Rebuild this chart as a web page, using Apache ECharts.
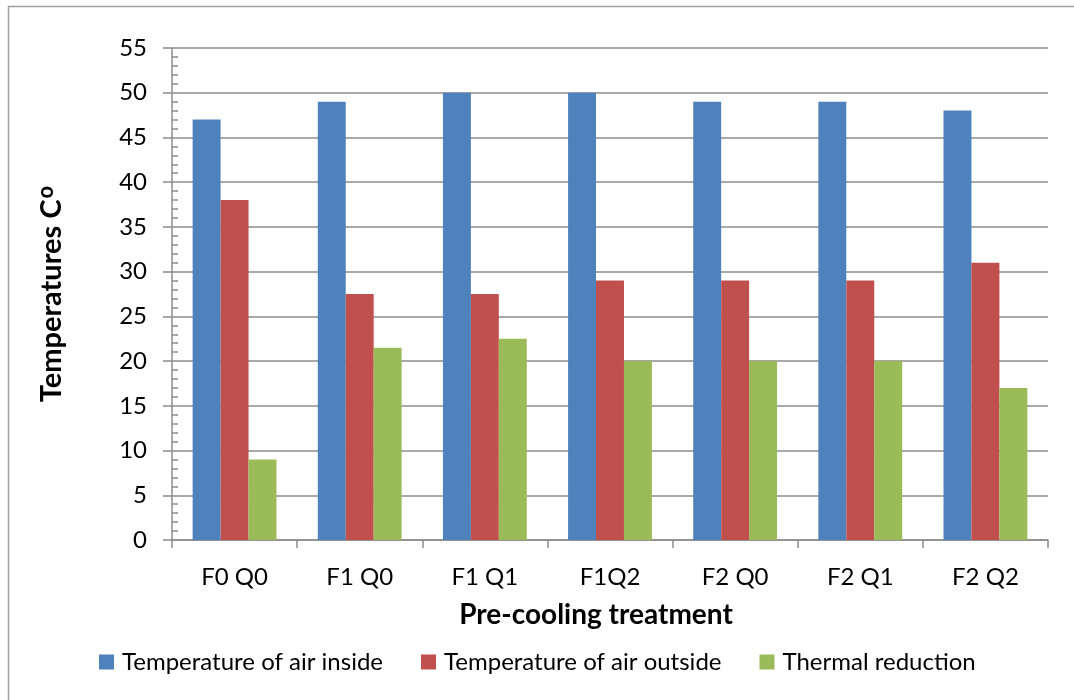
<!DOCTYPE html>
<html>
<head>
<meta charset="utf-8">
<script src="https://cdn.jsdelivr.net/npm/echarts@6/dist/echarts.min.js"></script>
<style>
  html, body { margin: 0; padding: 0; background: #fff; }
  #chart { width: 1074px; height: 700px; }
</style>
</head>
<body>
<div id="chart"></div>
<script>
// Treatments along the x axis
const categories = ['F0 Q0', 'F1 Q0', 'F1 Q1', 'F1Q2', 'F2 Q0', 'F2 Q1', 'F2 Q2'];

// Temperatures (°C) per treatment
const airInside = [47, 49, 50, 50, 49, 49, 48];
const airOutside = [38, 27.5, 27.5, 29, 29, 29, 31];
const thermalReduction = [9, 21.5, 22.5, 20, 20, 20, 17];

const seriesNames = ['Temperature of air inside', 'Temperature of air outside', 'Thermal reduction'];
const seriesColors = ['#4F81BD', '#C0504D', '#9BBB59'];

const yMin = 0, yMax = 55, yStep = 5;

const FONT = 'Lato';
const axisGray = '#8c8c8c';

const chart = echarts.init(document.getElementById('chart'));

const barSeries = [airInside, airOutside, thermalReduction].map((values, i) => ({
  name: seriesNames[i],
  type: 'bar',
  data: values,
  yAxisIndex: 0,
  barGap: '0%',
  barCategoryGap: '33%',
  itemStyle: { color: seriesColors[i] },
  emphasis: { disabled: true }
}));

chart.setOption({
  animation: false,
  textStyle: { fontFamily: FONT, color: '#000' },
  grid: { left: 172, right: 26, top: 48, bottom: 160, containLabel: false },
  graphic: [
    // outer chart frame (top and left edges)
    { type: 'line', shape: { x1: 8, y1: 6.5, x2: 1074, y2: 6.5 }, style: { stroke: '#a0a0a0', lineWidth: 1.5 }, silent: true },
    { type: 'line', shape: { x1: 8.5, y1: 6, x2: 8.5, y2: 700 }, style: { stroke: '#a0a0a0', lineWidth: 1.5 }, silent: true }
  ],
  legend: {
    left: 94,
    bottom: 21,
    itemWidth: 15,
    itemHeight: 15,
    itemGap: 38,
    icon: 'rect',
    textStyle: { fontFamily: FONT, fontSize: 24, color: '#000', padding: [0, 0, 0, 3] },
    data: seriesNames
  },
  xAxis: {
    type: 'category',
    data: categories,
    boundaryGap: true,
    name: 'Pre-cooling treatment',
    nameLocation: 'middle',
    nameGap: 61,
    nameTextStyle: { fontFamily: FONT, fontSize: 28, fontWeight: 'bold', color: '#000', padding: [0, 28, 0, 0] },
    axisLine: { show: true, lineStyle: { color: axisGray, width: 1.5 } },
    axisTick: { show: true, alignWithLabel: false, length: 8, lineStyle: { color: axisGray, width: 1.5 } },
    axisLabel: { fontFamily: FONT, fontSize: 24, color: '#000', margin: 25 },
    splitLine: { show: false }
  },
  yAxis: [
    {
      type: 'value',
      min: yMin,
      max: yMax,
      interval: yStep,
      position: 'left',
      name: '{t|Temperatures C}{s|o}',
      nameLocation: 'middle',
      nameRotate: 90,
      nameGap: 103,
      nameTextStyle: {
        rich: {
          t: { fontFamily: FONT, fontSize: 29, fontWeight: 'bold', color: '#000' },
          s: { fontFamily: FONT, fontSize: 22, fontWeight: 'bold', color: '#000', verticalAlign: 'top', padding: [0, 0, 12, 1] }
        }
      },
      axisLine: { show: true, lineStyle: { color: axisGray, width: 1.5 } },
      axisTick: { show: true, inside: false, length: 9, lineStyle: { color: axisGray, width: 1.5 } },
      axisLabel: { fontFamily: FONT, fontSize: 24, color: '#000', margin: 25 },
      splitLine: { show: true, lineStyle: { color: axisGray, width: 1.5 } }
    },
    {
      // overlay axis that only carries the inward minor ticks
      type: 'value',
      min: yMin,
      max: yMax,
      interval: yStep,
      position: 'left',
      axisLine: { show: false },
      axisTick: { show: false, inside: true },
      minorTick: { show: true, splitNumber: 5, length: 6, lineStyle: { color: axisGray, width: 1.5 } },
      axisLabel: { show: false },
      splitLine: { show: false }
    }
  ],
  series: barSeries
});
</script>
</body>
</html>
